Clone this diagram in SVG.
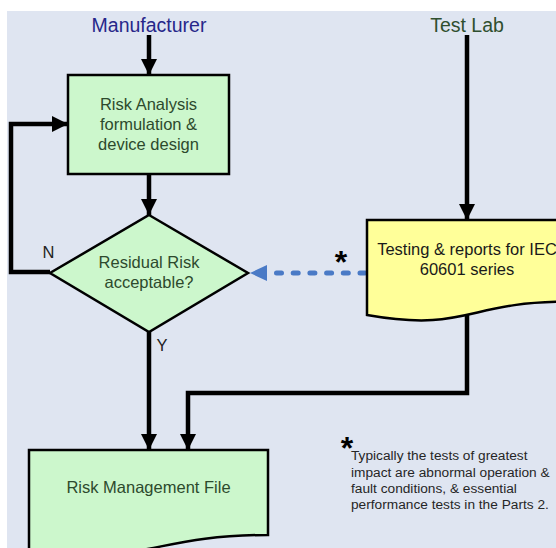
<svg xmlns="http://www.w3.org/2000/svg" width="556" height="548" viewBox="0 0 556 548">
<defs>
<style>
.bg{fill:#dfe5f1}
.green{fill:#ccf7cc;stroke:#000;stroke-width:2.5}
.yellow{fill:#ffff99;stroke:#000;stroke-width:2.5}
.lbl{font-family:"Liberation Sans",Arial,sans-serif;font-size:16.5px;text-anchor:middle}
.gt{fill:#2d4a2d}
.dk{fill:#1a1a1a}
.conn{fill:none;stroke:#000;stroke-width:4.5}
.dash{fill:none;stroke:#4a7ac6;stroke-width:5;stroke-linecap:round;stroke-dasharray:5 11.7}
.star{font-family:"Liberation Sans",Arial,sans-serif;font-size:32px;font-weight:bold;fill:#000;text-anchor:middle}
.note{font-family:"Liberation Sans",Arial,sans-serif;font-size:13.7px;fill:#262626}
</style>
<marker id="ah" markerUnits="userSpaceOnUse" viewBox="0 0 10 10" refX="10" refY="5" markerWidth="16" markerHeight="17" orient="auto">
<path d="M0,0 L10,5 L0,10 z" fill="#000"/>
</marker>
</defs>
<rect x="0" y="0" width="556" height="548" fill="#ffffff"/>
<rect class="bg" x="7" y="11" width="549" height="537"/>

<g id="labels">
<text x="149" y="32" font-family="'Liberation Sans',Arial,sans-serif" font-size="19.5" fill="#27278a" text-anchor="middle">Manufacturer</text>
<text x="467" y="32" font-family="'Liberation Sans',Arial,sans-serif" font-size="19.5" fill="#2f4f2f" text-anchor="middle">Test Lab</text>
<text class="lbl" x="48.5" y="258" fill="#222">N</text>
<text class="lbl" x="162" y="351" fill="#222">Y</text>
</g>

<g id="connectors">
<path class="conn" d="M149,35 V75" marker-end="url(#ah)"/>
<path class="conn" d="M149,174 V215" marker-end="url(#ah)"/>
<path class="conn" d="M50,272 H11 V124 H68" marker-end="url(#ah)"/>
<path class="conn" d="M149,332 V450" marker-end="url(#ah)"/>
<path class="conn" d="M467,35 V220" marker-end="url(#ah)"/>
<path class="conn" d="M467,314 V393 H188 V450" marker-end="url(#ah)"/>
<path class="dash" d="M365,273 H272"/>
<path d="M250,273 L267,265 L267,281 z" fill="#4a7ac6"/>
</g>

<g id="risk-analysis">
<rect class="green" x="68" y="75" width="161" height="99"/>
<text class="lbl gt" x="148.5" y="110">Risk Analysis</text>
<text class="lbl gt" x="148.5" y="130">formulation &amp;</text>
<text class="lbl gt" x="148.5" y="150">device design</text>
</g>

<g id="residual-risk">
<path class="green" d="M149,215 L248,273 L149,332 L50,273 Z"/>
<text class="lbl gt" x="149" y="268">Residual Risk</text>
<text class="lbl gt" x="149" y="288">acceptable?</text>
</g>

<g id="testing">
<path class="yellow" d="M367,220 H567 V301.6 C467,301.6 467,332.6 367,315 Z"/>
<text class="lbl dk" x="467" y="255">Testing &amp; reports for IEC</text>
<text class="lbl dk" x="467" y="275">60601 series</text>
</g>

<g id="risk-management-file">
<path class="green" d="M29,450 H268 V535 C148.5,535 148.5,567.4 29,549 Z"/>
<text class="lbl gt" x="148.5" y="493">Risk Management File</text>
</g>

<g id="notes">
<text class="star" x="341" y="273">*</text>
<text class="star" x="347" y="459">*</text>
<text class="note" x="351" y="460">Typically the tests of greatest</text>
<text class="note" x="351" y="477">impact are abnormal operation &amp;</text>
<text class="note" x="351" y="493">fault conditions, &amp; essential</text>
<text class="note" x="351" y="509">performance tests in the Parts 2.</text>
</g>
</svg>
